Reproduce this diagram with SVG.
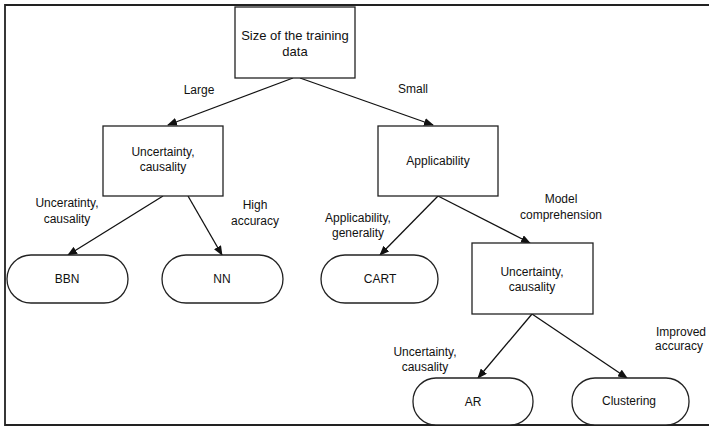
<svg xmlns="http://www.w3.org/2000/svg" width="709" height="429" viewBox="0 0 709 429">
<defs>
<marker id="ah" markerWidth="10" markerHeight="8" refX="9" refY="4" orient="auto" markerUnits="userSpaceOnUse">
<path d="M0,0 L10,4 L0,8 Z" fill="#111"/>
</marker>
<style>
.box{fill:#fff;stroke:#222;stroke-width:1.3}
.term{fill:#fff;stroke:#222;stroke-width:1.3}
.edge{stroke:#111;stroke-width:1.3;fill:none;marker-end:url(#ah)}
text{font-family:"Liberation Sans",Arial,sans-serif;font-size:12px;fill:#111}
.c{text-anchor:middle}
</style>
</defs>
<rect x="0" y="0" width="709" height="429" fill="#fff"/>
<g id="frame" fill="none" stroke="#222" stroke-width="1.8">
<path d="M709,5 H5 V425 H709"/>
</g>
<g id="connectors">
<line class="edge" x1="293" y1="78" x2="168" y2="125"/>
<line class="edge" x1="300" y1="78" x2="433" y2="125"/>
<line class="edge" x1="163" y1="196" x2="68" y2="255"/>
<line class="edge" x1="188" y1="196" x2="222" y2="255"/>
<line class="edge" x1="438" y1="196" x2="380" y2="255"/>
<line class="edge" x1="438" y1="196" x2="530" y2="243"/>
<line class="edge" x1="532" y1="314" x2="478" y2="378"/>
<line class="edge" x1="532" y1="314" x2="627" y2="378"/>
<text class="c" x="199" y="94">Large</text>
<text class="c" x="413" y="93">Small</text>
<text class="c" x="67" y="207">Unceratinty,</text>
<text class="c" x="67" y="223">causality</text>
<text class="c" x="255" y="209">High</text>
<text class="c" x="255" y="225">accuracy</text>
<text class="c" x="358" y="222">Applicability,</text>
<text class="c" x="358" y="237">generality</text>
<text class="c" x="561" y="203">Model</text>
<text class="c" x="561" y="219">comprehension</text>
<text class="c" x="425" y="356">Uncertainty,</text>
<text class="c" x="425" y="371">causality</text>
<text x="656" y="336">Improved</text>
<text x="655" y="350">accuracy</text>
</g>
<g id="n-size">
<rect class="box" x="235" y="7" width="120" height="71"/>
<text class="c" x="295" y="40" style="font-size:13px">Size of the training</text>
<text class="c" x="295" y="56" style="font-size:13px">data</text>
</g>
<g id="n-unc1">
<rect class="box" x="103" y="126" width="120" height="70"/>
<text class="c" x="163" y="156">Uncertainty,</text>
<text class="c" x="163" y="171">causality</text>
</g>
<g id="n-app">
<rect class="box" x="378" y="126" width="120" height="70"/>
<text class="c" x="438" y="165">Applicability</text>
</g>
<g id="n-unc2">
<rect class="box" x="472" y="243" width="121" height="71"/>
<text class="c" x="532" y="276">Uncertainty,</text>
<text class="c" x="532" y="291">causality</text>
</g>
<g id="n-bbn">
<rect class="term" x="7" y="255" width="121" height="48" rx="24" ry="24"/>
<text class="c" x="67" y="283">BBN</text>
</g>
<g id="n-nn">
<rect class="term" x="162" y="255" width="121" height="48" rx="24" ry="24"/>
<text class="c" x="222" y="283">NN</text>
</g>
<g id="n-cart">
<rect class="term" x="321" y="255" width="117" height="48" rx="24" ry="24"/>
<text class="c" x="380" y="283">CART</text>
</g>
<g id="n-ar">
<rect class="term" x="413" y="378" width="120" height="47" rx="23" ry="23"/>
<text class="c" x="473" y="406">AR</text>
</g>
<g id="n-clu">
<rect class="term" x="572" y="378" width="117" height="47" rx="23" ry="23"/>
<text class="c" x="629" y="405">Clustering</text>
</g>
</svg>
